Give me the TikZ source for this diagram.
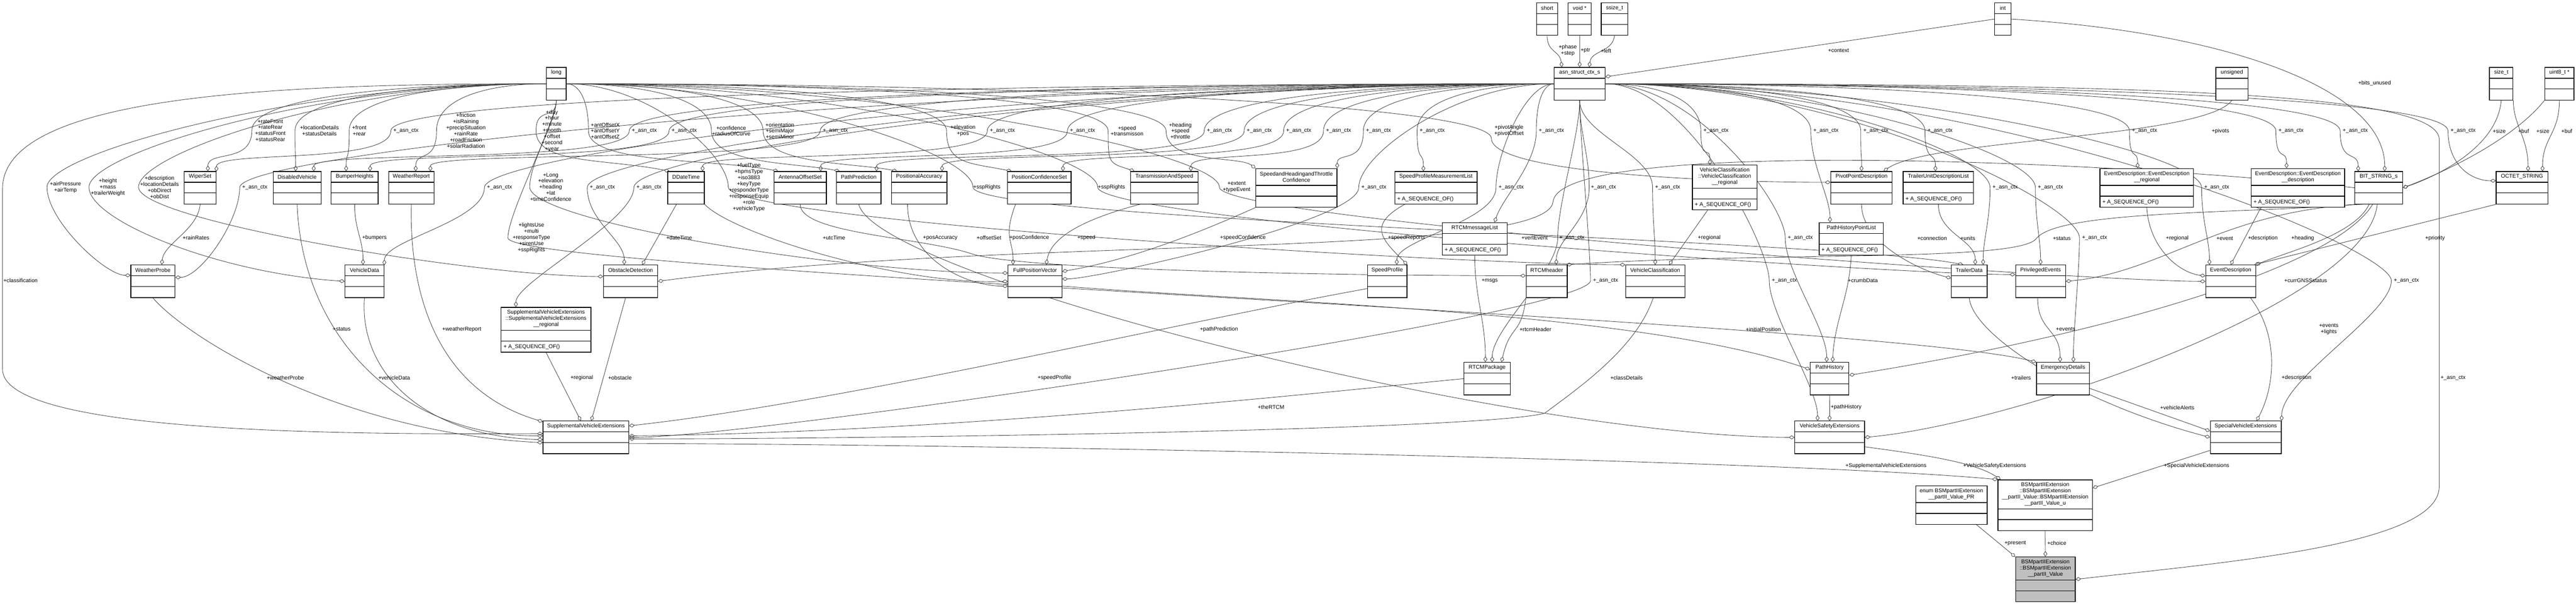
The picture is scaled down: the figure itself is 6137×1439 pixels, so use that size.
\documentclass[tikz,border=0pt]{standalone}
\usepackage{fontspec}
\setmainfont{Liberation Sans}
\usetikzlibrary{arrows.meta, calc}
\pgfdeclarelayer{edges}
\pgfsetlayers{edges,main}

\newcommand{\dxfont}{\fontsize{3.7}{4.18}\selectfont}

\tikzset{
  clsbox/.style={draw=black, line width=0.45pt, rectangle, anchor=north west, inner sep=0pt},
  clsline/.style={draw=black, line width=0.45pt},
  clstext/.style={font=\dxfont, align=center, inner sep=0pt},
  lbl/.style={font=\dxfont, align=center, inner sep=0pt},
  agg/.style={draw=black!75, line width=0.3pt, -{Diamond[open, length=3.8pt, width=2.6pt]}},
}

% class box: [fill]{name}{x}{y}{width}{title lines}{title}
\newcommand{\cls}[7][white]{%
  \pgfmathsetmacro{\clsT}{12+14.5*#6}%
  \node[clsbox, fill=#1, minimum width=#5*0.1mm, minimum height=(\clsT+51)*0.1mm] (#2) at (#3,#4) {};
  \node[clstext] (#2-title) at ([yshift=-\clsT*0.05mm]#2.north) {#7};
  \draw[clsline] ([yshift=-\clsT*0.1mm]#2.north west) -- ([yshift=-\clsT*0.1mm]#2.north east);
  \draw[clsline] ([yshift=-(\clsT+25.5)*0.1mm]#2.north west) -- ([yshift=-(\clsT+25.5)*0.1mm]#2.north east);
}
% operation line in the last compartment
\newcommand{\mth}[1]{\node[clstext, anchor=west] (#1-op) at ([xshift=0.6mm, yshift=1.275mm]#1.south west) {+ A\_SEQUENCE\_OF()};}

\begin{document}
\begin{tikzpicture}[x=0.01cm, y=-0.01cm]
\useasboundingbox (0,0) rectangle (6137,1439);

% basic types
\cls{short}{3660}{6}{50}{1}{short}
\cls{voidp}{3735}{6}{55}{1}{void *}
\cls{ssizet}{3814}{6}{63}{1}{ssize\_t}
\cls{int}{4751}{6}{39}{1}{int}
\cls{asn}{3702}{160}{121}{1}{asn\_struct\_ctx\_s}
\cls{long}{1301}{160}{47}{1}{long}
\cls{unsigned}{5278}{160}{77}{1}{unsigned}
\cls{sizet}{5930}{160}{56}{1}{size\_t}
\cls{uinteight}{6062}{160}{69}{1}{uint8\_t *}

% first row of structs
\cls{WiperSet}{438}{408}{76}{1}{WiperSet}
\cls{DisabledVehicle}{650}{408}{114}{1}{DisabledVehicle}
\cls{BumperHeights}{788}{408}{112}{1}{BumperHeights}
\cls{WeatherReport}{925}{408}{108}{1}{WeatherReport}
\cls{DDateTime}{1590}{408}{87}{1}{DDateTime}
\cls{AntennaOffsetSet}{1843}{408}{125}{1}{AntennaOffsetSet}
\cls{PathPrediction}{1992}{408}{106}{1}{PathPrediction}
\cls{PositionalAccuracy}{2123}{408}{132}{1}{PositionalAccuracy}
\cls{PositionConfidenceSet}{2399}{408}{152}{1}{PositionConfidenceSet}
\cls{TransmissionAndSpeed}{2693}{408}{160}{1}{TransmissionAndSpeed}
\cls{SHTConfidence}{2991}{401}{193}{2}{SpeedandHeadingandThrottle\\Confidence}
\cls{SpeedProfileMeasurementList}{3322}{408}{196}{1}{SpeedProfileMeasurementList}
\mth{SpeedProfileMeasurementList}
\cls{VCregional}{4031}{393}{154}{3}{VehicleClassification\\::VehicleClassification\\\_\_regional}
\mth{VCregional}
\cls{PivotPointDescription}{4361}{408}{146}{1}{PivotPointDescription}
\cls{TrailerUnitDescriptionList}{4533}{408}{168}{1}{TrailerUnitDescriptionList}
\mth{TrailerUnitDescriptionList}
\cls{EDregional}{5002}{401}{223}{2}{EventDescription::EventDescription\\\_\_regional}
\mth{EDregional}
\cls{EDdescription}{5362}{401}{223}{2}{EventDescription::EventDescription\\\_\_description}
\mth{EDdescription}
\cls{BITSTRING}{5609}{408}{114}{1}{BIT\_STRING\_s}
\cls{OCTETSTRING}{5946}{408}{123}{1}{OCTET\_STRING}

% lists
\cls{RTCMmessageList}{3435}{530}{155}{1}{RTCMmessageList}
\mth{RTCMmessageList}
\cls{PathHistoryPointList}{4333}{530}{153}{1}{PathHistoryPointList}
\mth{PathHistoryPointList}

% second row of structs
\cls{WeatherProbe}{311}{631}{105}{1}{WeatherProbe}
\cls{VehicleData}{821}{631}{93}{1}{VehicleData}
\cls{ObstacleDetection}{1437}{631}{129}{1}{ObstacleDetection}
\cls{FullPositionVector}{2401}{631}{128}{1}{FullPositionVector}
\cls{SpeedProfile}{3257}{631}{94}{1}{SpeedProfile}
\cls{RTCMheader}{3635}{631}{98}{1}{RTCMheader}
\cls{VehicleClassification}{3872}{631}{141}{1}{VehicleClassification}
\cls{TrailerData}{4648}{631}{85}{1}{TrailerData}
\cls{PrivilegedEvents}{4801}{631}{119}{1}{PrivilegedEvents}
\cls{EventDescription}{5254}{631}{119}{1}{EventDescription}
\cls{SVEregional}{1193}{732}{214}{3}{SupplementalVehicleExtensions\\::SupplementalVehicleExtensions\\\_\_regional}
\mth{SVEregional}

% third row
\cls{RTCMPackage}{3487}{863}{110}{1}{RTCMPackage}
\cls{PathHistory}{4312}{863}{92}{1}{PathHistory}
\cls{EmergencyDetails}{4851}{863}{126}{1}{EmergencyDetails}

% extensions
\cls{SupplementalVehicleExtensions}{1293}{1003}{204}{1}{SupplementalVehicleExtensions}
\cls{VehicleSafetyExtensions}{4275}{1003}{166}{1}{VehicleSafetyExtensions}
\cls{SpecialVehicleExtensions}{5265}{1003}{169}{1}{SpecialVehicleExtensions}

% partII value
\cls{enumPR}{4563}{1157}{170}{2}{enum BSMpartIIExtension\\\_\_partII\_Value\_PR}
\cls{partIIu}{4759}{1143}{225}{4}{BSMpartIIExtension\\::BSMpartIIExtension\\\_\_partII\_Value::BSMpartIIExtension\\\_\_partII\_Value\_u}
\cls[black!25]{partIIValue}{4801}{1327}{142}{3}{BSMpartIIExtension\\::BSMpartIIExtension\\\_\_partII\_Value}

\begin{pgfonlayer}{edges}
% members of asn_struct_ctx_s
\draw[agg] (short.south) .. controls +(0,40) and +(-5,-40) .. (asn.137);
\draw[agg] (voidp.south) -- (asn.north);
\draw[agg] (ssizet.south) .. controls +(-5,40) and +(5,-40) .. (asn.60);
\draw[agg] (int.west) -- (asn.15);

% BIT_STRING_s, OCTET_STRING
\draw[agg] (int.east) .. controls +(500,30) and +(0,-200) .. (BITSTRING.70);
\draw[agg] (sizet.south) .. controls +(-10,120) and +(60,-20) .. (BITSTRING.east);
\draw[agg] (uinteight.south west) .. controls +(-80,100) and +(80,-30) .. (BITSTRING.east);
\draw[agg] (sizet.south east) .. controls +(0,60) and +(0,-80) .. (OCTETSTRING.70);
\draw[agg] (uinteight.south) .. controls +(0,80) and +(0,-80) .. (OCTETSTRING.39);
\draw[agg] (unsigned.south) .. controls (5250,330) and (4600,330) .. (PivotPointDescription.37);

% _asn_ctx, leaving to the left
\foreach \tg/\wx/\wy/\cx/\cy in {WiperSet.45/931/312/0/-50, DisabledVehicle.45/1499/312/0/-50,
    BumperHeights.47/1594/312/0/-50, WeatherReport.41/1954/312/0/-50, DDateTime.45/2352/312/0/-50,
    AntennaOffsetSet.39/2543/312/0/-50, PathPrediction.43/2869/312/0/-50, PositionalAccuracy.36/2964/312/0/-50,
    PositionConfidenceSet.35/3058/312/0/-50, TransmissionAndSpeed.32/3153/312/0/-50,
    SHTConfidence.north east/3248/312/0/-40, SpeedProfileMeasurementList.127/3376/312/0/-50,
    RTCMmessageList.40/3660/312/20/-60, WeatherProbe.10/571/447/60/0, VehicleData.39/1154/447/0/-60,
    ObstacleDetection.111/1399/447/0/-60, SVEregional.143/1510/447/0/-60,
    FullPositionVector.5/3237/447/80/0, SpeedProfile.60/3564/447/0/-60}
  \draw[agg] (asn.west) .. controls +({-0.5*(3702-\wx)},0) and +(0,-80) .. (\wx,\wy)
    .. controls +(0,80) and +(\cx,\cy) .. (\tg);

% _asn_ctx, leaving downwards
\foreach \tg/\wx/\wy/\cx/\cy in {RTCMheader.60/3786/447/0/-60, RTCMPackage.73/3711/567/0/-80,
    VehicleClassification.north/3937/447/0/-60, SupplementalVehicleExtensions.east/3789/669/300/0}
  \draw[agg] (asn.south) .. controls +(0,80) and +(0,-80) .. (\wx,\wy)
    .. controls +(0,80) and +(\cx,\cy) .. (\tg);

% _asn_ctx, leaving to the right
\foreach \tg/\wx/\wy/\cx/\cy in {VCregional.123/4052/312/0/-50, PathHistoryPointList.142/4314/312/0/-60,
    PivotPointDescription.north/4433/312/0/-50, TrailerUnitDescriptionList.100/4586/312/0/-50,
    EDregional.115/5073/312/0/-50, EDdescription.120/5422/312/0/-50, BITSTRING.141/5575/312/0/-50,
    OCTETSTRING.165/5832/312/-60/0, TrailerData.50/4741/447/0/-60, PrivilegedEvents.north/4849/447/0/-60,
    EventDescription.142/5245/447/0/-60, PathHistory.100/4253/567/0/-80, EmergencyDetails.58/4954/567/0/-80,
    VehicleSafetyExtensions.126/4215/669/0/-80, SpecialVehicleExtensions.north east/5697/669/0/-100}
  \draw[agg] (asn.east) .. controls +({0.5*(\wx-3823)},0) and +(0,-80) .. (\wx,\wy)
    .. controls +(0,80) and +(\cx,\cy) .. (\tg);
\draw[agg] (asn.east) .. controls (5100,200) and (5800,220) .. (5811,330) -- (5811,1160)
  .. controls (5811,1300) and (5300,1340) .. (partIIValue.east);

% members of type long
\foreach \tg/\wx/\wy/\cx/\cy in {WiperSet.65/600/311/0/-50, DisabledVehicle.95/703/311/0/-50,
    BumperHeights.117/832/311/0/-50, WeatherReport.75/1040/311/0/-50, WeatherProbe.165/112/446/-60/0,
    VehicleData.west/212/446/-300/-20, ObstacleDetection.170/330/446/-300/0}
  \draw[agg] (long.west) .. controls +({-0.5*(1301-\wx)},0) and +(0,-80) .. (\wx,\wy)
    .. controls +(0,80) and +(\cx,\cy) .. (\tg);
\foreach \tg/\wx/\wy/\cx/\cy in {AntennaOffsetSet.143/1402/312/-150/-30, PathPrediction.139/1695/312/-100/-20,
    PositionalAccuracy.143/1818/312/-100/-20, PositionConfidenceSet.149/2255/312/-100/-20,
    TransmissionAndSpeed.151/2640/312/-60/-20, SHTConfidence.north west/2778/312/-40/-30,
    VehicleClassification.north west/1735/446/-400/0, TrailerData.110/2318/446/-300/-60,
    PrivilegedEvents.165/2615/446/-300/0, EventDescription.180/2905/446/-300/0,
    PivotPointDescription.170/3553/330/-300/0}
  \draw[agg] (long.east) .. controls +({0.5*(\wx-1348)},0) and +(0,-80) .. (\wx,\wy)
    .. controls +(0,80) and +(\cx,\cy) .. (\tg);
\foreach \tg/\wx/\wy/\cx/\cy in {DDateTime.135/1277/312/-150/-30, FullPositionVector.163/1262/446/-400/0,
    EmergencyDetails.north west/1210/567/-400/-100}
  \draw[agg] (long.south) .. controls +(0,50) and +(0,-60) .. (\wx,\wy)
    .. controls +(0,80) and +(\cx,\cy) .. (\tg);
\draw[agg] (long.west) .. controls (700,200) and (6,220) .. (6,450) -- (6,880)
  .. controls (6,1040) and (900,1035) .. (SupplementalVehicleExtensions.175);

% weather, vehicle data, disabled vehicle
\draw[agg] (WiperSet.south) .. controls +(-5,60) and +(5,-50) .. (WeatherProbe.62);
\draw[agg] (BumperHeights.south) .. controls +(0,60) and +(0,-60) .. (VehicleData.95);
\draw[agg] (DisabledVehicle.south) .. controls (720,800) and (950,1040) .. (SupplementalVehicleExtensions.178);
\draw[agg] (VehicleData.south) .. controls (855,880) and (1000,1040) .. (SupplementalVehicleExtensions.183);
\draw[agg] (WeatherProbe.south) .. controls (440,800) and (800,1030) .. (SupplementalVehicleExtensions.187);
\draw[agg] (WeatherReport.south) .. controls (975,700) and (1040,930) .. (SupplementalVehicleExtensions.160);
\draw[agg] (SVEregional.south) -- (SupplementalVehicleExtensions.107);
\draw[agg] (ObstacleDetection.253) -- (SupplementalVehicleExtensions.72);
\draw[agg] (DDateTime.240) -- (ObstacleDetection.55);
\draw[agg] (BITSTRING.west) .. controls (5000,380) and (3720,330) .. (3700,480)
  .. controls (3690,620) and (2400,560) .. (ObstacleDetection.east);

% full position vector
\draw[agg] (DDateTime.south east) .. controls (1750,560) and (2150,680) .. (FullPositionVector.180);
\draw[agg] (PositionalAccuracy.235) .. controls +(0,130) and +(-100,0) .. (FullPositionVector.190);
\draw[agg] (PositionConfidenceSet.215) .. controls +(-30,80) and +(0,-60) .. (FullPositionVector.143);
\draw[agg] (TransmissionAndSpeed.214) .. controls +(-150,40) and +(10,-60) .. (FullPositionVector.56);
\draw[agg] (SHTConfidence.south west) .. controls +(-200,90) and +(120,-20) .. (FullPositionVector.20);
\draw[agg] (FullPositionVector.-10) .. controls (3000,720) and (3900,740) .. (PathHistory.155);
\draw[agg] (PathPrediction.south) .. controls (2090,660) and (3600,1040) .. (VehicleSafetyExtensions.west);

% RTCM and speed profile
\draw[agg] (AntennaOffsetSet.south) .. controls +(0,70) and +(-120,-40) .. (2315,605)
  .. controls +(120,40) and +(-400,0) .. (RTCMheader.165);
\draw[agg] (BITSTRING.south west) .. controls (5350,510) and (4900,500) .. (4850,570)
  .. controls (4800,625) and (4200,600) .. (RTCMheader.40);
\draw[agg] (RTCMmessageList.south) .. controls +(0,100) and +(0,-100) .. (RTCMPackage.96);
\draw[agg] (RTCMheader.south west) .. controls +(-10,90) and +(20,-90) .. (RTCMPackage.49);
\draw[agg] (RTCMPackage.west) .. controls (3200,930) and (2300,1030) .. (SupplementalVehicleExtensions.2);
\draw[agg] (SpeedProfileMeasurementList.208) .. controls +(-90,50) and +(-60,-60) .. (SpeedProfile.north east);
\draw[agg] (SpeedProfile.200) .. controls (2800,770) and (2000,960) .. (SupplementalVehicleExtensions.15);
\draw[agg] (VCregional.233) -- (VehicleClassification.50);
\draw[agg] (VehicleClassification.263) .. controls +(-40,120) and +(80,-60) .. (3680,985)
  .. controls +(-150,40) and +(600,0) .. (SupplementalVehicleExtensions.-2);

% path history
\draw[agg] (PathHistoryPointList.south) .. controls +(-5,100) and +(5,-100) .. (PathHistory.80);
\draw[agg] (BITSTRING.250) .. controls (5560,640) and (5000,800) .. (PathHistory.10);
\draw[agg] (PathHistory.south) -- (VehicleSafetyExtensions.north);
\draw[agg] (BITSTRING.265) .. controls (5640,720) and (4800,1010) .. (VehicleSafetyExtensions.east);

% events and trailers
\draw[agg] (BITSTRING.225) .. controls (5300,500) and (5150,650) .. (PrivilegedEvents.east);
\draw[agg] (BITSTRING.240) .. controls (5610,560) and (5450,600) .. (EventDescription.north east);
\draw[agg] (OCTETSTRING.south west) -- (EventDescription.35);
\draw[agg] (EDdescription.208) -- (EventDescription.north);
\draw[agg] (EDregional.south) .. controls (5120,590) and (5190,650) .. (EventDescription.168);
\draw[agg] (TrailerUnitDescriptionList.south) .. controls +(0,70) and +(0,-60) .. (TrailerData.70);
\draw[agg] (PivotPointDescription.south) .. controls +(0,90) and +(-80,-20) .. (TrailerData.170);
\draw[agg] (PrivilegedEvents.260) .. controls +(0,80) and +(0,-80) .. (EmergencyDetails.100);
\draw[agg] (EmergencyDetails.-20) -- (SpecialVehicleExtensions.170);
\draw[agg] (TrailerData.south) .. controls (4700,800) and (4950,960) .. (SpecialVehicleExtensions.west);
\draw[agg] (EventDescription.-40) .. controls (5430,800) and (5420,920) .. (SpecialVehicleExtensions.57);

% partII value
\draw[agg] (VehicleSafetyExtensions.-15) .. controls +(150,20) and +(-60,-40) .. (partIIu.150);
\draw[agg] (SpecialVehicleExtensions.200) -- (partIIu.20);
\draw[agg] (SupplementalVehicleExtensions.-8) .. controls (2500,1060) and (4300,1100) .. (partIIu.north west);
\draw[agg] (enumPR.-38) -- (partIIValue.north west);
\draw[agg] (partIIu.south) -- (partIIValue.north);
\end{pgfonlayer}

% edge labels
\foreach \x/\y [count=\i] in {967/312, 1535/312, 1630/312, 1990/312, 2388/312, 2579/312, 2905/312,
    3000/312, 3094/312, 3189/312, 3284/312, 3412/312, 3696/312, 4088/312, 4350/312, 4469/312,
    4622/312, 5109/312, 5458/312, 5611/312, 5868/312, 607/447, 1190/447, 1435/447, 1546/447,
    3273/447, 3600/447, 3820/447, 3973/447, 4777/447, 4885/447, 5281/447, 3745/567, 4289/567,
    4990/567, 3825/669, 4251/669, 5733/669, 5844/901}
  \node[lbl] (ctx\i) at (\x,\y) {+\_asn\_ctx};

\foreach \n/\x/\y/\t in {phase/3735/120/{+phase\\+step}, ptr/3777/121/{+ptr}, left/3826/121/{+left},
    context/4380/121/{+context}, bitsunused/5657/198/{+bits\_unused}, pivots/5290/313/{+pivots},
    sizeA/5954/313/{+size}, bufA/6012/313/{+buf}, sizeB/6058/313/{+size}, bufB/6115/313/{+buf},
    rate/644/311/{+rateFront\\+rateRear\\+statusFront\\+statusRear},
    locdet/761/311/{+locationDetails\\+statusDetails}, frontrear/856/311/{+front\\+rear},
    weather/1110/311/{+friction\\+isRaining\\+precipSituation\\+rainRate\\+roadFriction\\+solarRadiation},
    airP/156/446/{+airPressure\\+airTemp}, height/257/446/{+height\\+mass\\+trailerWeight},
    obst/380/446/{+description\\+locationDetails\\+obDirect\\+obDist},
    classification/49/669/{+classification},
    day/1315/312/{+day\\+hour\\+minute\\+month\\+offset\\+second\\+year},
    antoff/1442/312/{+antOffsetX\\+antOffsetY\\+antOffsetZ},
    conf/1742/312/{+confidence\\+radiusOfCurve},
    orient/1858/312/{+orientation\\+semiMajor\\+semiMinor},
    lonlat/1312/446/{+Long\\+elevation\\+heading\\+lat\\+timeConfidence},
    elevpos/2294/312/{+elevation\\+pos}, speedtr/2685/312/{+speed\\+transmisson},
    hst/2812/312/{+heading\\+speed\\+throttle},
    fuel/1784/446/{+fuelType\\+hpmsType\\+iso3883\\+keyType\\+responderType\\+responseEquip\\+role\\+vehicleType},
    sspA/2351/446/{+sspRights}, sspB/2648/446/{+sspRights},
    lights/1266/567/{+lightsUse\\+multi\\+responseType\\+sirenUse\\+sspRights},
    extent/2946/446/{+extent\\+typeEvent}, pivotAO/3595/312/{+pivotAngle\\+pivotOffset}}
  \node[lbl] (l\n) at (\x,\y) {\t};

\foreach \n/\x/\y/\t in {status/814/785/{+status}, vehicleData/939/900/{+vehicleData},
    weatherProbe/680/900/{+weatherProbe}, weatherReport/1100/785/{+weatherReport},
    rainRates/467/567/{+rainRates}, bumpers/892/567/{+bumpers}, regionalS/1386/901/{+regional},
    obstacle/1477/901/{+obstacle}, dateTime/1618/567/{+dateTime}, utcTime/1987/567/{+utcTime},
    offsetSet/2356/567/{+offsetSet}, pathPrediction/2904/785/{+pathPrediction},
    posAccuracy/2240/567/{+posAccuracy}, posConfidence/2452/567/{+posConfidence},
    speed/2588/567/{+speed}, speedConfidence/2961/567/{+speedConfidence},
    initialPosition/4201/785/{+initialPosition}, speedProfile/2512/900/{+speedProfile},
    speedReports/3351/567/{+speedReports}, msgs/3549/669/{+msgs}, rtcmHeader/3658/785/{+rtcmHeader},
    theRTCM/3028/970/{+theRTCM}, classDetails/3875/900/{+classDetails}, regionalV/4072/567/{+regional},
    vertEvent/3656/567/{+vertEvent}, crumbData/4438/669/{+crumbData}, pathHistory/4398/971/{+pathHistory},
    currGNSS/5493/669/{+currGNSSstatus}, eventsLights/5548/785/{+events\\+lights},
    event/5300/568/{+event}, heading/5486/568/{+heading}, descriptionE/5391/568/{+description},
    regionalE/5187/568/{+regional}, priority/5801/568/{+priority}, units/4688/568/{+units},
    connection/4603/568/{+connection}, statusR/4912/568/{+status}, events/4921/785/{+events},
    vehicleAlerts/5187/972/{+vehicleAlerts}, trailers/4815/901/{+trailers},
    descriptionS/5471/901/{+description}, supp/4493/1111/{+SupplementalVehicleExtensions},
    vse/4752/1111/{+VehicleSafetyExtensions}, spec/5233/1111/{+SpecialVehicleExtensions},
    present/4801/1295/{+present}, choice/4900/1295/{+choice}}
  \node[lbl] (m\n) at (\x,\y) {\t};
\end{tikzpicture}
\end{document}
